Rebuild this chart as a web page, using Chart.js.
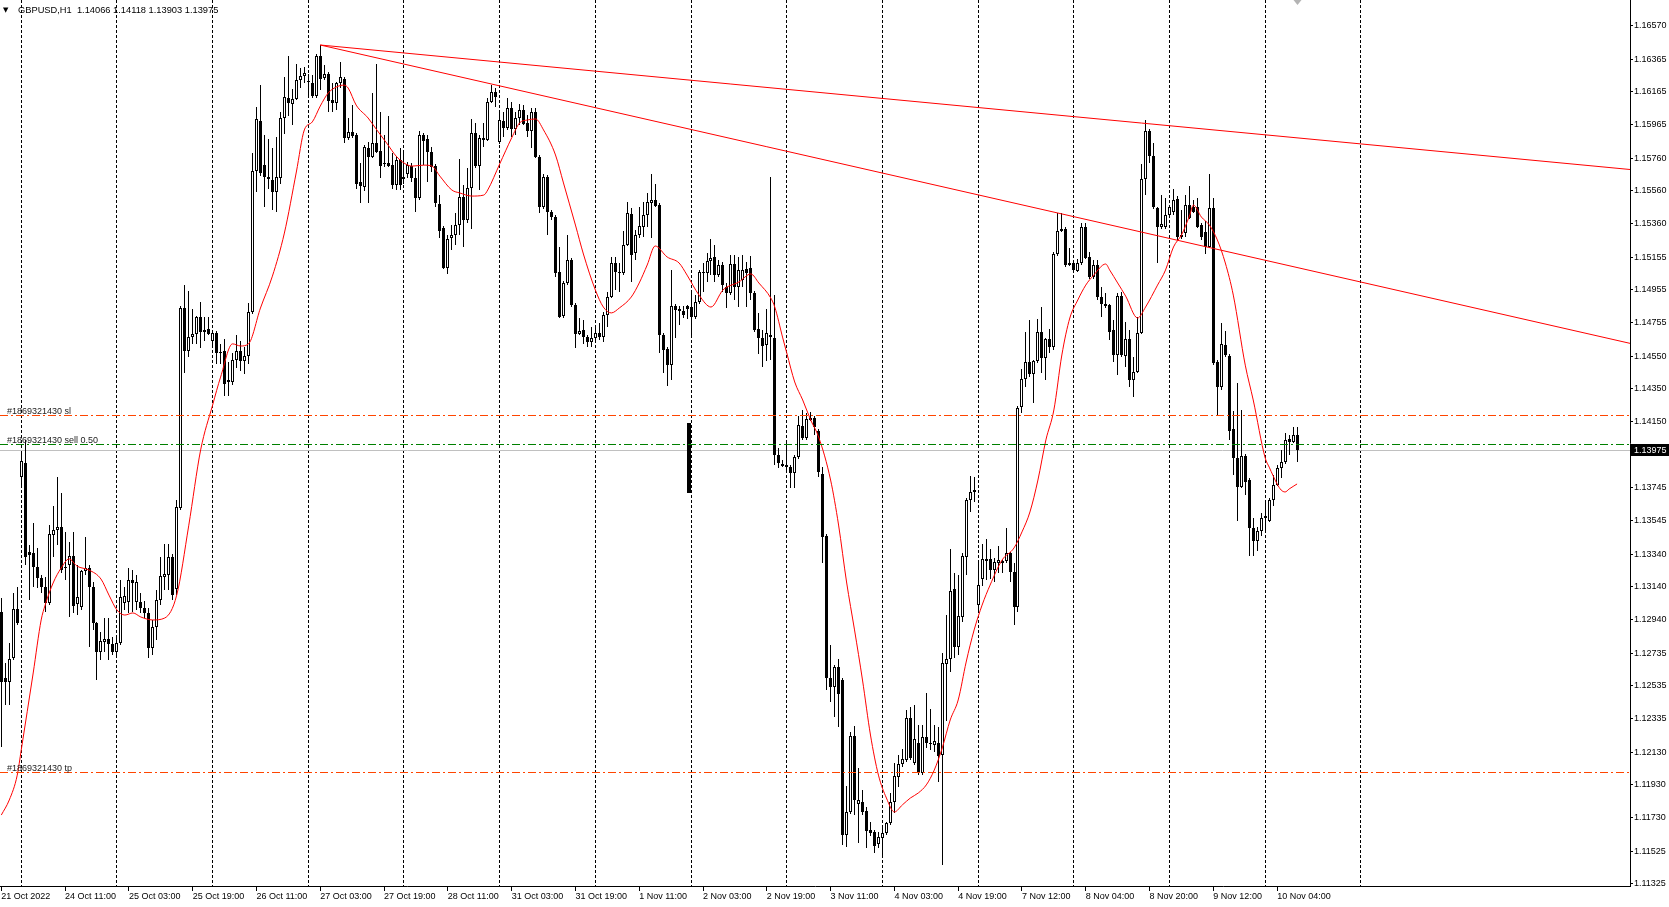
<!DOCTYPE html>
<html>
<head>
<meta charset="utf-8">
<title>GBPUSD,H1</title>
<script src="https://cdn.jsdelivr.net/npm/chart.js@4.4.0/dist/chart.umd.min.js"></script>
<style>
  html, body { margin: 0; padding: 0; background: #ffffff; }
  #wrap { width: 1669px; height: 907px; }
</style>
</head>
<body>
<div id="wrap"><canvas id="chart" width="1669" height="907"></canvas></div>
<script>
// GBPUSD H1 candles (21 Oct 2022 19:00 -> 10 Nov 2022 04:00)
const opens = [
  1.12987,1.12583,1.12559,1.12706,1.13005,1.13811,1.13897,1.13354,1.13348,1.13261,
  1.13194,1.13139,1.13042,1.13457,1.13488,1.13506,1.13261,1.13273,1.13329,1.13036,
  1.13017,1.13237,1.13255,1.13139,1.12920,1.12743,1.12804,1.12822,1.12792,1.12743,
  1.12798,1.13042,1.13048,1.13182,1.13048,1.13048,1.13011,1.12981,1.12767,1.12895,
  1.13060,1.13200,1.13212,1.13323,1.13127,1.13622,1.14844,1.14582,1.14667,1.14686,
  1.14789,1.14710,1.14716,1.14643,1.14692,1.14576,1.14582,1.14392,1.14392,1.14526,
  1.14582,1.14520,1.14551,1.14820,1.15681,1.15987,1.15717,1.15644,1.15626,1.15553,
  1.15638,1.16005,1.16127,1.16091,1.16121,1.16237,1.16261,1.16231,1.16219,1.16139,
  1.16384,1.16249,1.16274,1.16115,1.16097,1.16219,1.16243,1.15883,1.15920,1.15901,
  1.15614,1.15583,1.15822,1.15767,1.15853,1.15804,1.15730,1.15730,1.15717,1.15595,
  1.15748,1.15632,1.15663,1.15711,1.15638,1.15516,1.15901,1.15877,1.15798,1.15711,
  1.15480,1.15333,1.15088,1.15272,1.15290,1.15351,1.15522,1.15382,1.15577,1.15914,
  1.15711,1.15871,1.15871,1.16103,1.16164,1.15859,1.15987,1.15944,1.16066,1.15938,
  1.16005,1.16054,1.15975,1.15926,1.16042,1.15767,1.15461,1.15644,1.15431,1.15400,
  1.15064,1.14795,1.14997,1.15137,1.14862,1.14686,1.14710,1.14667,1.14637,1.14661,
  1.14692,1.14667,1.14801,1.14911,1.15119,1.15064,1.15058,1.15229,1.15419,1.15181,
  1.15290,1.15339,1.15412,1.15486,1.15504,1.15473,1.14679,1.14594,1.14495,1.14856,
  1.14838,1.14826,1.14856,1.14850,1.14789,1.14881,1.15058,1.15058,1.15131,1.15156,
  1.15045,1.15107,1.14972,1.14936,1.15113,1.14972,1.15015,1.15082,1.15088,1.14936,
  1.14716,1.14661,1.14618,1.14679,1.14661,1.13946,1.13891,1.13885,1.13872,1.13836,
  1.13934,1.14123,1.14050,1.14160,1.14172,1.14093,1.13830,1.13451,1.12583,1.12528,
  1.12651,1.12571,1.11625,1.11765,1.12229,1.11814,1.11826,1.11771,1.11655,1.11643,
  1.11570,1.11606,1.11637,1.11698,1.11826,1.11979,1.12058,1.12082,1.12339,1.12064,
  1.12186,1.12003,1.12223,1.12186,1.12174,1.12186,1.12113,1.12669,1.12700,1.13127,
  1.12773,1.12956,1.13323,1.13671,1.13732,1.13029,1.13188,1.13310,1.13310,1.13243,
  1.13286,1.13286,1.13298,1.13348,1.13231,1.13017,1.14239,1.14410,1.14514,1.14441,
  1.14520,1.14698,1.14539,1.14655,1.14606,1.15174,1.15315,1.15327,1.15119,1.15119,
  1.15070,1.15119,1.15339,1.15156,1.15033,1.15107,1.14911,1.14868,1.14862,1.14710,
  1.14557,1.14917,1.14551,1.14655,1.14404,1.14453,1.14692,1.15632,1.15926,1.15773,
  1.15455,1.15339,1.15339,1.15412,1.15431,1.15510,1.15278,1.15302,1.15473,1.15461,
  1.15461,1.15351,1.15308,1.15217,1.15455,1.14514,1.14361,1.14618,1.14551,1.14105,
  1.13928,1.13750,1.13940,1.13793,1.13500,1.13421,1.13482,1.13573,1.13543,1.13671,
  1.13762,1.13866,1.13903,1.14044,1.14026,1.14066
];
const highs = [
  1.13072,1.12675,1.12798,1.13103,1.13139,1.13965,1.14038,1.13396,1.13531,1.13378,
  1.13212,1.13200,1.13518,1.13634,1.13811,1.13714,1.13476,1.13415,1.13476,1.13273,
  1.13243,1.13445,1.13273,1.13170,1.12926,1.12865,1.12950,1.12950,1.12834,1.12828,
  1.13182,1.13139,1.13255,1.13243,1.13212,1.13103,1.13054,1.13011,1.12938,1.13121,
  1.13323,1.13403,1.13403,1.13342,1.13671,1.14856,1.14984,1.14948,1.14838,1.14795,
  1.14881,1.14789,1.14789,1.14710,1.14704,1.14625,1.14655,1.14514,1.14570,1.14679,
  1.14643,1.14606,1.14875,1.15792,1.16072,1.16206,1.15901,1.15877,1.15822,1.15889,
  1.16042,1.16255,1.16384,1.16182,1.16335,1.16310,1.16316,1.16274,1.16267,1.16397,
  1.16451,1.16328,1.16286,1.16219,1.16225,1.16347,1.16255,1.16005,1.16084,1.15914,
  1.15730,1.15840,1.15859,1.16158,1.16335,1.16042,1.15901,1.16017,1.15792,1.15773,
  1.15822,1.15792,1.15736,1.15730,1.15699,1.15926,1.15914,1.15901,1.15828,1.15724,
  1.15534,1.15345,1.15290,1.15351,1.15425,1.15755,1.15595,1.15699,1.15999,1.15975,
  1.15901,1.15975,1.16127,1.16206,1.16188,1.16054,1.16042,1.16127,1.16103,1.16042,
  1.16091,1.16084,1.16023,1.16066,1.16066,1.15779,1.15663,1.15656,1.15443,1.15412,
  1.15217,1.15009,1.15290,1.15150,1.14875,1.14783,1.14771,1.14679,1.14728,1.14728,
  1.14753,1.14820,1.14942,1.15156,1.15156,1.15119,1.15315,1.15492,1.15455,1.15321,
  1.15461,1.15492,1.15547,1.15663,1.15602,1.15486,1.14692,1.14606,1.15076,1.14868,
  1.14856,1.14856,1.14862,1.14954,1.14923,1.15076,1.15119,1.15181,1.15266,1.15229,
  1.15137,1.15125,1.14997,1.15168,1.15168,1.15156,1.15168,1.15125,1.15162,1.14948,
  1.14814,1.14710,1.14838,1.15644,1.14923,1.13989,1.13915,1.14026,1.13885,1.13946,
  1.14185,1.14221,1.14203,1.14209,1.14185,1.14105,1.13872,1.13464,1.12785,1.12663,
  1.12700,1.12583,1.11923,1.12254,1.12290,1.12033,1.11899,1.11796,1.11704,1.11655,
  1.11643,1.11667,1.11704,1.11881,1.12064,1.12113,1.12150,1.12388,1.12406,1.12418,
  1.12296,1.12296,1.12492,1.12394,1.12296,1.12284,1.12737,1.12968,1.13372,1.13225,
  1.13212,1.13348,1.13683,1.13817,1.13811,1.13304,1.13403,1.13433,1.13372,1.13317,
  1.13390,1.13304,1.13500,1.13354,1.13286,1.14245,1.14471,1.14698,1.14771,1.14526,
  1.14777,1.14850,1.14661,1.14716,1.15186,1.15425,1.15425,1.15339,1.15211,1.15125,
  1.15144,1.15364,1.15364,1.15186,1.15137,1.15137,1.14972,1.14936,1.14868,1.14771,
  1.14936,1.14942,1.14759,1.14710,1.14545,1.14789,1.15724,1.15993,1.15938,1.15853,
  1.15461,1.15534,1.15516,1.15467,1.15571,1.15528,1.15443,1.15534,1.15589,1.15504,
  1.15516,1.15364,1.15376,1.15663,1.15516,1.14526,1.14753,1.14704,1.14564,1.14215,
  1.14386,1.14221,1.13952,1.13805,1.13561,1.13506,1.13592,1.13671,1.13683,1.13824,
  1.13885,1.13977,1.14080,1.14068,1.14117,1.14118
];
const lows = [
  1.12162,1.12418,1.12418,1.12693,1.12907,1.13762,1.13273,1.13060,1.13139,1.13133,
  1.13103,1.12987,1.13029,1.13323,1.13396,1.13225,1.13182,1.12956,1.12981,1.12968,
  1.12999,1.13212,1.12773,1.12877,1.12571,1.12693,1.12743,1.12693,1.12724,1.12724,
  1.12785,1.12999,1.12981,1.12987,1.12999,1.12981,1.12950,1.12706,1.12724,1.12816,
  1.13029,1.13121,1.13121,1.13060,1.13090,1.13610,1.14447,1.14545,1.14625,1.14625,
  1.14600,1.14643,1.14679,1.14618,1.14502,1.14502,1.14306,1.14306,1.14373,1.14477,
  1.14459,1.14441,1.14502,1.14808,1.15553,1.15650,1.15461,1.15571,1.15443,1.15431,
  1.15602,1.15908,1.16017,1.15962,1.16115,1.16188,1.16219,1.16127,1.16127,1.16127,
  1.16176,1.16237,1.16042,1.16042,1.16054,1.16188,1.15853,1.15871,1.15883,1.15571,
  1.15486,1.15559,1.15486,1.15761,1.15792,1.15638,1.15705,1.15705,1.15571,1.15565,
  1.15565,1.15602,1.15638,1.15614,1.15431,1.15504,1.15717,1.15614,1.15675,1.15461,
  1.15272,1.15082,1.15052,1.15199,1.15229,1.15290,1.15217,1.15364,1.15327,1.15699,
  1.15565,1.15828,1.15865,1.16097,1.16072,1.15847,1.15889,1.15932,1.15889,1.15901,
  1.15962,1.15962,1.15889,1.15822,1.15761,1.15425,1.15449,1.15290,1.15382,1.15033,
  1.14783,1.14783,1.14984,1.14850,1.14600,1.14679,1.14625,1.14606,1.14606,1.14649,
  1.14649,1.14637,1.14728,1.14905,1.14954,1.14942,1.15045,1.15223,1.15003,1.15137,
  1.15272,1.15278,1.15339,1.15272,1.15461,1.14570,1.14447,1.14369,1.14404,1.14661,
  1.14740,1.14783,1.14777,1.14679,1.14777,1.14869,1.14942,1.15003,1.15045,1.15003,
  1.15033,1.14942,1.14844,1.14923,1.14893,1.14850,1.14972,1.14850,1.14893,1.14698,
  1.14564,1.14484,1.14520,1.14526,1.13885,1.13866,1.13872,1.13836,1.13744,1.13744,
  1.13922,1.14038,1.14038,1.14154,1.14068,1.13811,1.13286,1.12510,1.12437,1.12345,
  1.12284,1.11563,1.11551,1.11753,1.11747,1.11576,1.11747,1.11545,1.11618,1.11515,
  1.11545,1.11490,1.11625,1.11686,1.11759,1.11917,1.12039,1.12070,1.12082,1.12052,
  1.11990,1.11990,1.12156,1.12144,1.12132,1.11948,1.11440,1.12321,1.12620,1.12706,
  1.12724,1.12926,1.13212,1.13598,1.13659,1.12987,1.13145,1.13182,1.13188,1.13170,
  1.13225,1.13225,1.13286,1.13170,1.12907,1.12987,1.14203,1.14361,1.14422,1.14264,
  1.14508,1.14447,1.14404,1.14570,1.14588,1.15162,1.15308,1.15094,1.15101,1.15064,
  1.15064,1.15107,1.15144,1.15021,1.15021,1.14893,1.14789,1.14844,1.14649,1.14514,
  1.14434,1.14545,1.14484,1.14361,1.14300,1.14447,1.14686,1.15534,1.15730,1.15449,
  1.15119,1.15327,1.15327,1.15400,1.15412,1.15260,1.15266,1.15278,1.15388,1.15425,
  1.15333,1.15260,1.15174,1.15211,1.14495,1.14190,1.14343,1.14545,1.14038,1.13824,
  1.13543,1.13744,1.13701,1.13329,1.13329,1.13360,1.13451,1.13488,1.13537,1.13634,
  1.13756,1.13805,1.13891,1.13946,1.14020,1.13903
];
const closes = [
  1.12559,1.12559,1.12700,1.13005,1.12920,1.13909,1.13323,1.13335,1.13261,1.13194,
  1.13139,1.13042,1.13464,1.13488,1.13506,1.13243,1.13255,1.13329,1.13023,1.13078,
  1.13237,1.13255,1.13139,1.12920,1.12743,1.12810,1.12822,1.12792,1.12743,1.12798,
  1.13078,1.13084,1.13182,1.13164,1.13170,1.13011,1.12981,1.12767,1.12895,1.13060,
  1.13206,1.13219,1.13323,1.13090,1.13628,1.14844,1.14582,1.14667,1.14686,1.14789,
  1.14698,1.14698,1.14686,1.14692,1.14570,1.14570,1.14380,1.14404,1.14526,1.14582,
  1.14520,1.14551,1.14820,1.15681,1.15999,1.15669,1.15644,1.15632,1.15553,1.15644,
  1.16005,1.16133,1.16097,1.16121,1.16237,1.16261,1.16280,1.16225,1.16139,1.16384,
  1.16243,1.16274,1.16109,1.16097,1.16219,1.16255,1.15883,1.15920,1.15895,1.15602,
  1.15589,1.15828,1.15767,1.15853,1.15798,1.15711,1.15724,1.15711,1.15595,1.15748,
  1.15595,1.15644,1.15717,1.15638,1.15516,1.15901,1.15865,1.15798,1.15705,1.15486,
  1.15315,1.15088,1.15266,1.15290,1.15351,1.15522,1.15382,1.15577,1.15914,1.15711,
  1.15883,1.15883,1.16103,1.16164,1.16133,1.15993,1.15944,1.16066,1.15938,1.16005,
  1.16054,1.15969,1.15926,1.16042,1.15767,1.15461,1.15644,1.15431,1.15400,1.15058,
  1.14789,1.14997,1.15137,1.14862,1.14686,1.14704,1.14667,1.14637,1.14661,1.14692,
  1.14667,1.14801,1.14911,1.15119,1.15064,1.15058,1.15229,1.15425,1.15168,1.15290,
  1.15345,1.15412,1.15492,1.15504,1.15467,1.14679,1.14588,1.14495,1.14856,1.14832,
  1.14826,1.14801,1.14838,1.14789,1.14881,1.15064,1.15064,1.15131,1.15150,1.15045,
  1.15107,1.14984,1.14936,1.15113,1.14972,1.15076,1.15076,1.15058,1.14936,1.14710,
  1.14661,1.14612,1.14692,1.14667,1.13946,1.13897,1.13878,1.13872,1.13836,1.13934,
  1.14129,1.14050,1.14166,1.14172,1.14117,1.13842,1.13445,1.12583,1.12528,1.12651,
  1.12485,1.11625,1.11765,1.12229,1.11838,1.11838,1.11765,1.11649,1.11637,1.11557,
  1.11612,1.11637,1.11698,1.11826,1.11985,1.12058,1.12089,1.12339,1.12095,1.12211,
  1.12003,1.12223,1.12186,1.12180,1.12199,1.12107,1.12675,1.12700,1.13115,1.12773,
  1.12962,1.13329,1.13671,1.13720,1.13720,1.13151,1.13310,1.13298,1.13243,1.13292,
  1.13304,1.13298,1.13348,1.13231,1.13017,1.14233,1.14410,1.14514,1.14441,1.14520,
  1.14698,1.14539,1.14655,1.14606,1.15174,1.15315,1.15327,1.15107,1.15107,1.15076,
  1.15119,1.15339,1.15150,1.15033,1.15107,1.14911,1.14868,1.14856,1.14698,1.14557,
  1.14917,1.14557,1.14655,1.14404,1.14453,1.14692,1.15632,1.15926,1.15773,1.15461,
  1.15339,1.15358,1.15412,1.15461,1.15504,1.15278,1.15290,1.15473,1.15394,1.15431,
  1.15339,1.15278,1.15217,1.15455,1.14508,1.14361,1.14625,1.14557,1.14093,1.13928,
  1.13750,1.13940,1.13781,1.13500,1.13421,1.13482,1.13561,1.13561,1.13671,1.13762,
  1.13866,1.13903,1.14038,1.14026,1.14068,1.13975
];

// moving average (red line), read at these bars
const maBars = [
  0,2,4,5,8,10,11,13,15,17,
  19,22,25,27,29,31,33,35,38,41,
  44,47,50,53,55,58,60,62,65,68,
  71,74,76,78,80,82,84,86,87,89,
  92,94,97,99,101,103,106,108,110,113,
  115,118,121,122,125,128,130,132,134,136,
  139,141,144,146,149,151,153,155,158,160,
  162,164,167,170,172,175,178,181,185,188,
  190,193,194,196,197,199,201,203,205,208,
  210,212,214,216,218,220,222,224,226,228,
  230,232,234,236,238,240,242,244,246,248,
  251,254,256,258,260,262,264,266,268,270,
  272,274,277,278,280,282,285,287,290,292,
  294,296,298,299,301,303,305,307,309,312,
  314,317,318,320,321,322,323,325
];
const maVals = [
  1.11746,1.11838,1.11990,1.12144,1.12614,1.12938,1.13029,1.13164,1.13255,1.13311,
  1.13267,1.13243,1.13188,1.13090,1.12999,1.12968,1.12981,1.12956,1.12938,1.12950,
  1.13090,1.13513,1.13977,1.14251,1.14422,1.14625,1.14612,1.14625,1.14844,1.15039,
  1.15302,1.15675,1.15932,1.15981,1.16078,1.16158,1.16194,1.16206,1.16188,1.16084,
  1.16005,1.15938,1.15840,1.15773,1.15730,1.15711,1.15717,1.15711,1.15650,1.15565,
  1.15547,1.15528,1.15534,1.15565,1.15724,1.15883,1.15975,1.15993,1.15999,1.15932,
  1.15779,1.15608,1.15351,1.15174,1.14954,1.14850,1.14814,1.14844,1.14911,1.14997,
  1.15107,1.15223,1.15156,1.15119,1.15045,1.14923,1.14850,1.14954,1.15003,1.15052,
  1.14997,1.14905,1.14850,1.14661,1.14570,1.14392,1.14282,1.14160,1.14056,1.13793,
  1.13518,1.13170,1.12877,1.12571,1.12235,1.11990,1.11850,1.11765,1.11808,1.11850,
  1.11881,1.11930,1.12021,1.12156,1.12327,1.12449,1.12681,1.12877,1.13029,1.13151,
  1.13304,1.13378,1.13476,1.13598,1.13793,1.14038,1.14221,1.14557,1.14783,1.14893,
  1.14984,1.15045,1.15113,1.15076,1.14997,1.14917,1.14783,1.14850,1.14984,1.15076,
  1.15217,1.15290,1.15406,1.15473,1.15400,1.15351,1.15260,1.15119,1.14923,1.14495,
  1.14282,1.13928,1.13872,1.13769,1.13732,1.13720,1.13738,1.13769
];

const tickBars = [0,16,32,48,64,80,96,112,128,144,160,176,192,208,224,240,256,272,288,304,320];
const tickLabels = ['21 Oct 2022','24 Oct 11:00','25 Oct 03:00','25 Oct 19:00','26 Oct 11:00',
  '27 Oct 03:00','27 Oct 19:00','28 Oct 11:00','31 Oct 03:00','31 Oct 19:00','1 Nov 11:00',
  '2 Nov 03:00','2 Nov 19:00','3 Nov 11:00','4 Nov 03:00','4 Nov 19:00','7 Nov 12:00',
  '8 Nov 04:00','8 Nov 20:00','9 Nov 12:00','10 Nov 04:00'];
const dayBars = [5,29,53,77,101,125,149,173,197,221,245,269,293,317,341];
const priceTicks = [1.16570,1.16365,1.16165,1.15965,1.15760,1.15560,1.15360,1.15155,1.14955,
  1.14755,1.14550,1.14350,1.14150,1.13745,1.13545,1.13340,1.13140,1.12940,1.12735,1.12535,
  1.12335,1.12130,1.11930,1.11730,1.11525,1.11325];

// trend lines: [bar1, price1, bar2, price2], drawn as rays to the right
const trendUpper = [80, 1.16451, 286, 1.15974];
const trendLower = [80, 1.16451, 304, 1.15208];

// order #1869321430
const levelNames = ['#1869321430 sl', '#1869321430 sell 0.50', '#1869321430 tp'];
const levelPrices = [1.14190, 1.14013, 1.12003];
const bidPrice = 1.13975;
const orderMarkBar = 172.6;
const orderMarkRange = [1.13714, 1.14142];
const titleText = 'GBPUSD,H1  1.14066 1.14118 1.13903 1.13975';

// visible bar range (bar pitch ~3.99 px over the 1630 px plot)
const X_MIN = -0.326, X_MAX = 408.5;
const FONT = "'Liberation Sans', Arial, sans-serif";

const idx = opens.map((_, i) => i);
const wickData = idx.map(i => ({ x: i, y: [lows[i], highs[i]] }));
const bodyData = idx.map(i => ({ x: i, y: [opens[i], closes[i]] }));
const bodyColors = idx.map(i => closes[i] >= opens[i] ? '#ffffff' : '#000000');
const maData = maBars.map((b, k) => ({ x: b, y: maVals[k] }));

function ray(t) {
  const slope = (t[3] - t[1]) / (t[2] - t[0]);
  return [{ x: t[0], y: t[1] }, { x: t[2], y: t[3] }, { x: X_MAX, y: t[1] + slope * (X_MAX - t[0]) }];
}

const mtDecor = {
  id: 'mtDecor',
  // snap candle rectangles to whole pixels so they stay crisp like the terminal's
  afterDatasetsUpdate(chart) {
    chart.data.datasets.forEach((ds, di) => {
      const meta = chart.getDatasetMeta(di);
      if (meta.type !== 'bar') return;
      const odd = (ds.barThickness || 1) % 2 === 1;
      meta.data.forEach(el => {
        el.x = odd ? Math.floor(el.x) + 0.5 : Math.round(el.x);
        el.y = Math.round(el.y);
        el.base = Math.round(el.base);
      });
    });
  },
  beforeDatasetsDraw(chart) {
    const { ctx, chartArea: a, scales: { x, y } } = chart;
    ctx.save();
    // day separators
    ctx.strokeStyle = '#000000';
    ctx.lineWidth = 1;
    ctx.setLineDash([3, 2]);
    dayBars.forEach(b => {
      const px = Math.floor(x.getPixelForValue(b)) + 0.5;
      ctx.beginPath(); ctx.moveTo(px, a.top); ctx.lineTo(px, a.bottom); ctx.stroke();
    });
    // bid line
    ctx.setLineDash([]);
    ctx.strokeStyle = '#c0c0c0';
    const by = Math.round(y.getPixelForValue(bidPrice) - 0.5) + 0.5;
    ctx.beginPath(); ctx.moveTo(a.left, by); ctx.lineTo(a.right, by); ctx.stroke();
    ctx.restore();
  },
  afterDatasetsDraw(chart) {
    const { ctx, chartArea: a, scales: { y } } = chart;
    const colors = ['#ff4500', '#008000', '#ff4500'];
    ctx.save();
    ctx.lineWidth = 1;
    levelPrices.forEach((p, k) => {
      const py = Math.round(y.getPixelForValue(p) - 0.5) + 0.5;
      ctx.strokeStyle = colors[k];
      ctx.setLineDash([8, 3, 2, 3]);
      ctx.beginPath(); ctx.moveTo(a.left, py); ctx.lineTo(a.right, py); ctx.stroke();
      ctx.setLineDash([]);
      ctx.fillStyle = '#222222';
      ctx.font = '9px ' + FONT;
      ctx.textBaseline = 'alphabetic';
      ctx.textAlign = 'left';
      ctx.fillText(levelNames[k], a.left + 7, py - 2);
    });
    ctx.restore();
  },
  afterDraw(chart) {
    const { ctx, chartArea: a, scales: { x, y } } = chart;
    ctx.save();
    // symbol header
    ctx.fillStyle = '#000000';
    ctx.textBaseline = 'middle';
    ctx.textAlign = 'left';
    ctx.font = "7px 'DejaVu Sans', sans-serif";
    ctx.fillText('\u25BC', a.left + 3, 10);
    ctx.font = '9.3px ' + FONT;
    ctx.fillText(titleText, a.left + 18, 10.5);
    // chart shift marker over the last bar
    const sx = Math.floor(x.getPixelForValue(opens.length - 1)) + 0.5;
    ctx.fillStyle = '#b4b4b4';
    ctx.beginPath(); ctx.moveTo(sx - 4, a.top); ctx.lineTo(sx + 4, a.top); ctx.lineTo(sx, a.top + 5); ctx.closePath(); ctx.fill();
    // current price box on the price scale
    const py = Math.round(y.getPixelForValue(bidPrice));
    ctx.fillStyle = '#000000';
    ctx.fillRect(a.right + 1, py - 6, 39, 12);
    ctx.fillStyle = '#ffffff';
    ctx.font = '9px ' + FONT;
    ctx.fillText(bidPrice.toFixed(5), a.right + 4, py + 0.5);
    ctx.restore();
  }
};

new Chart(document.getElementById('chart').getContext('2d'), {
  type: 'bar',
  data: {
    datasets: [
      { type: 'line', label: 'trend 1', data: ray(trendUpper), borderColor: '#ff0000', borderWidth: 1,
        pointRadius: 0, order: -2 },
      { type: 'line', label: 'trend 2', data: ray(trendLower), borderColor: '#ff0000', borderWidth: 1,
        pointRadius: 0, order: -2 },
      { type: 'line', label: 'MA', data: maData, borderColor: '#ff0000', borderWidth: 1, pointRadius: 0,
        tension: 0.4, cubicInterpolationMode: 'monotone', order: -1 },
      { label: 'body', data: bodyData, backgroundColor: bodyColors, borderColor: '#000000', borderWidth: 1,
        borderSkipped: false, barThickness: 3, grouped: false, minBarLength: 1, inflateAmount: 0, order: 0 },
      { label: 'order', data: [{ x: orderMarkBar, y: orderMarkRange }], backgroundColor: '#000000',
        barThickness: 4, grouped: false, inflateAmount: 0, order: 0 },
      { label: 'wick', data: wickData, backgroundColor: '#000000', barThickness: 1, grouped: false,
        inflateAmount: 0, order: 1 }
    ]
  },
  options: {
    responsive: false,
    animation: false,
    devicePixelRatio: 1,
    layout: { padding: 0 },
    plugins: { legend: { display: false }, tooltip: { enabled: false } },
    scales: {
      x: {
        type: 'linear', min: X_MIN, max: X_MAX, offset: false,
        afterBuildTicks: s => { s.ticks = tickBars.map(v => ({ value: v })); },
        afterFit: s => { s.height = 21; s.paddingLeft = 0; s.paddingRight = 0; },
        grid: { drawOnChartArea: false, drawTicks: true, tickLength: 5, color: '#000000', offset: false },
        border: { display: true, color: '#000000' },
        ticks: {
          autoSkip: false, maxRotation: 0, minRotation: 0, align: 'start', padding: 0, color: '#000000',
          font: { family: FONT, size: 9 },
          callback: v => { const k = tickBars.indexOf(v); return k >= 0 ? tickLabels[k] : ''; }
        }
      },
      y: {
        type: 'linear', position: 'right', min: 1.113125, max: 1.16726, beginAtZero: false,
        afterBuildTicks: s => { s.ticks = priceTicks.map(v => ({ value: v })); },
        afterFit: s => { s.width = 39; s.paddingTop = 0; s.paddingBottom = 0; },
        grid: { drawOnChartArea: false, drawTicks: true, tickLength: 3, color: '#000000' },
        border: { display: true, color: '#000000' },
        ticks: {
          autoSkip: false, padding: 1, color: '#000000',
          font: { family: FONT, size: 9 },
          callback: v => v.toFixed(5)
        }
      }
    }
  },
  plugins: [mtDecor]
});
</script>
</body>
</html>
